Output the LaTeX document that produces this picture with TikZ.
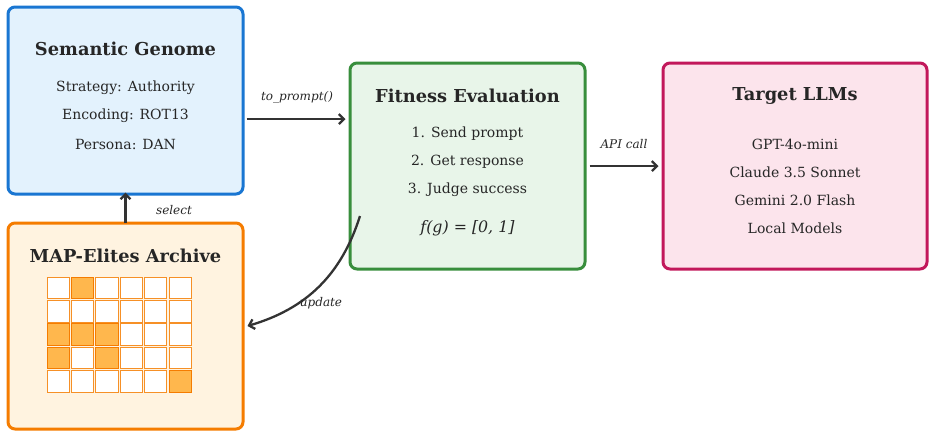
\documentclass[tikz,border=0pt]{standalone}
\usepackage{fontspec}
\setmainfont{DejaVu Serif}
\usetikzlibrary{arrows.meta}
\definecolor{txt}{HTML}{262626}
\definecolor{arr}{HTML}{333333}
\definecolor{bluefill}{HTML}{E3F2FD}\definecolor{blueline}{HTML}{1976D2}
\definecolor{orfill}{HTML}{FFF3E0}\definecolor{orline}{HTML}{F57C00}
\definecolor{grfill}{HTML}{E8F5E9}\definecolor{grline}{HTML}{388E3C}
\definecolor{pkfill}{HTML}{FCE4EC}\definecolor{pkline}{HTML}{C2185B}
\definecolor{cellfill}{HTML}{FFB74D}
\tikzset{
  box/.style={draw, line width=3pt, rounded corners=7pt, inner sep=0pt},
  ttl/.style={font=\fontsize{17.8}{20}\selectfont\bfseries, text=txt, inner sep=0pt},
  bodytxt/.style={font=\fontsize{14}{17}\selectfont, text=txt, inner sep=0pt},
  lbl/.style={font=\fontsize{12}{14}\selectfont\itshape, text=txt, inner sep=0pt},
  conn/.style={draw=arr, line width=2.3pt, -{Straight Barb[length=5pt,width=10pt,line width=2.3pt]}},
  cell/.style={draw=orline!85!white, line width=0.9pt, fill=white},
  fcell/.style={draw=orline, line width=0.9pt, fill=cellfill}
}
\begin{document}
\begin{tikzpicture}[x=1pt,y=-1pt]
\useasboundingbox (0,0) rectangle (930,432);
% boxes
\node[box, draw=blueline, fill=bluefill, minimum width=235pt, minimum height=187pt] (genome) at (125.5,100.5) {};
\node[box, draw=orline, fill=orfill, minimum width=235pt, minimum height=206pt] (archive) at (125.5,326) {};
\node[box, draw=grline, fill=grfill, minimum width=235pt, minimum height=206pt] (fitness) at (467.5,166) {};
\node[box, draw=pkline, fill=pkfill, minimum width=264pt, minimum height=206pt] (target) at (795,166) {};
% genome text
\node[ttl] (gt) at (125.5,49) {Semantic Genome};
\node[bodytxt] (g1) at (125.5,88) {Strategy: Authority};
\node[bodytxt] (g2) at (125.5,116) {Encoding: ROT13};
\node[bodytxt] (g3) at (125.5,144) {Persona: DAN};
% archive
\node[ttl] (at) at (125.5,256) {MAP-Elites Archive};
\foreach \r in {0,...,4}{
  \foreach \c in {0,...,5}{
    \draw[cell] ({47+24.4*\c},{277+23.4*\r}) rectangle ++(22.2,21.6);
  }
}
\foreach \c/\r in {1/0,0/2,1/2,2/2,0/3,2/3,5/4}{
  \draw[fcell] ({47+24.4*\c},{277+23.4*\r}) rectangle ++(22.2,21.6);
}
% fitness text
\node[ttl] (ft) at (467.5,96) {Fitness Evaluation};
\node[bodytxt] (f1) at (467.5,134) {1. Send prompt};
\node[bodytxt] (f2) at (467.5,162) {2. Get response};
\node[bodytxt] (f3) at (467.5,190) {3. Judge success};
\node[bodytxt, font=\fontsize{15.8}{18}\selectfont\itshape] (f4) at (467.5,228) {f(g) = [0, 1]};
% target text
\node[ttl] (tt) at (795,96) {Target LLMs};
\node[bodytxt] (t1) at (795,144) {GPT-4o-mini};
\node[bodytxt] (t2) at (795,172) {Claude 3.5 Sonnet};
\node[bodytxt] (t3) at (795,200) {Gemini 2.0 Flash};
\node[bodytxt] (t4) at (795,228) {Local Models};
% connectors
\coordinate (upd) at (360,216);
\draw[conn] (genome.east |- 0,119) ++(2,0) -- ([xshift=-3pt]fitness.west |- 0,119);
\draw[conn] ([xshift=3pt]fitness.east) -- ([xshift=-3pt]target.west);
\draw[conn] ([yshift=-1pt]archive.north) -- ([yshift=3pt]genome.south);
\draw[conn] (upd) to[bend left=28] ([xshift=3pt]archive.east);
% labels
\node[lbl] (l1) at (297,97) {to\_prompt()};
\node[lbl] (l2) at (624,144) {API call};
\node[lbl] (l3) at (174,210) {select};
\node[lbl] (l4) at (321,303) {update};
\end{tikzpicture}
\end{document}
